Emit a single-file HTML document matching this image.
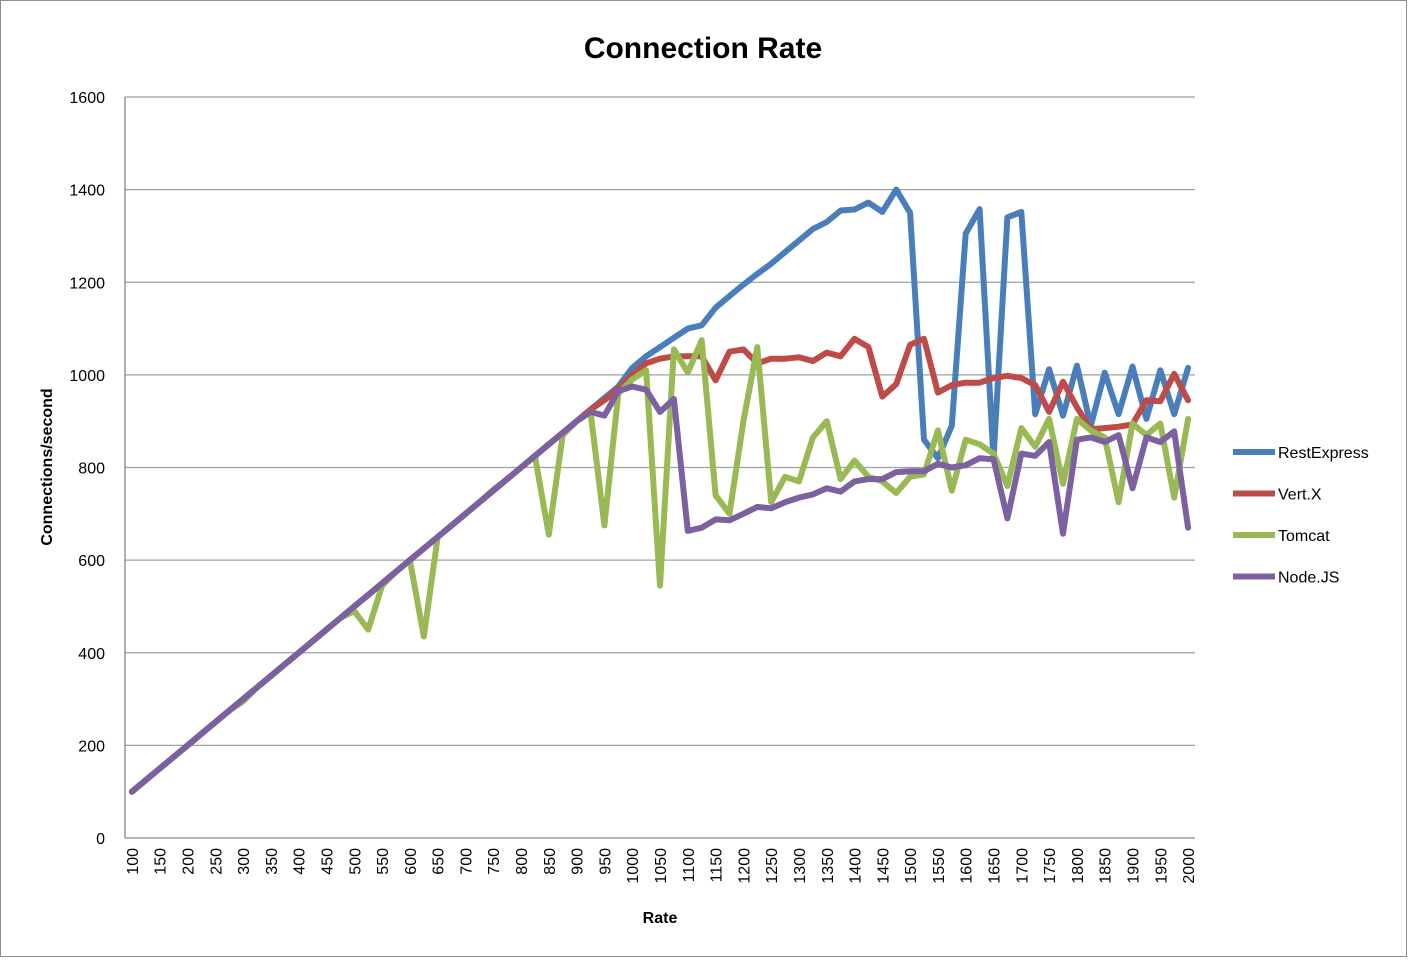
<!DOCTYPE html>
<html><head><meta charset="utf-8"><style>
body{margin:0;background:#fff;font-family:"Liberation Sans",sans-serif}
svg text{font-family:"Liberation Sans",sans-serif}
</style></head><body>
<svg id="c" width="1408" height="958">
<rect x="0.5" y="0.5" width="1406" height="956" fill="#fff" stroke="#8c8c8c"/>
<text x="703" y="58" text-anchor="middle" font-size="30" font-weight="bold">Connection Rate</text>
<text transform="translate(52,467) rotate(-90)" text-anchor="middle" font-size="16" font-weight="bold">Connections/second</text>
<text x="660" y="923" text-anchor="middle" font-size="16" font-weight="bold">Rate</text>
<g id="grid"></g><g id="ticks"></g><g id="series"></g><g id="legend"></g>
</svg>
<script>
const categories=[100,125,150,175,200,225,250,275,300,325,350,375,400,425,450,475,500,525,550,575,600,625,650,675,700,725,750,775,800,825,850,875,900,925,950,975,1000,1025,1050,1075,1100,1125,1150,1175,1200,1225,1250,1275,1300,1325,1350,1375,1400,1425,1450,1475,1500,1525,1550,1575,1600,1625,1650,1675,1700,1725,1750,1775,1800,1825,1850,1875,1900,1925,1950,1975,2000];
const yTicks=[0,200,400,600,800,1000,1200,1400,1600];
const seriesNames=["RestExpress","Vert.X","Tomcat","Node.JS"];
const seriesColors=["#4a7ebb","#be4b48","#98b954","#7d60a0"];
const restExpress=[100,125,150,175,200,225,250,275,300,325,350,375,400,425,450,475,500,525,550,575,600,625,650,675,700,725,750,775,800,825,850,875,900,925,950,975,1015,1040,1060,1080,1100,1107,1145,1170,1195,1218,1240,1265,1290,1315,1330,1355,1357,1372,1352,1400,1350,860,820,890,1305,1358,820,1340,1352,915,1012,912,1020,890,1005,915,1018,905,1010,915,1015];
const vertX=[100,125,150,175,200,225,250,275,300,325,350,375,400,425,450,475,500,525,550,575,600,625,650,675,700,725,750,775,800,825,850,875,900,925,945,970,1000,1025,1035,1040,1040,1040,988,1050,1055,1025,1035,1035,1038,1030,1048,1040,1078,1060,953,980,1065,1078,962,978,983,983,993,998,993,978,920,985,930,883,885,888,893,945,943,1002,945];
const tomcat=[100,125,150,175,200,225,250,275,295,325,350,375,400,425,450,475,490,450,545,575,600,435,650,675,700,725,752,775,800,825,655,870,900,920,675,960,990,1010,545,1055,1005,1075,740,700,900,1060,725,780,770,865,900,775,815,780,770,745,780,785,880,750,860,850,830,760,885,845,905,765,905,880,865,725,895,870,895,735,905];
const nodeJS=[100,125,150,175,200,225,250,275,300,325,350,375,400,425,450,475,500,525,550,575,600,625,650,675,700,725,750,775,800,825,850,875,900,920,912,965,975,968,920,948,663,670,688,686,700,715,712,725,735,742,755,748,770,775,775,790,792,792,808,800,805,820,818,690,830,825,855,657,860,865,855,870,755,865,855,878,670];
const allSeries=[restExpress,vertX,tomcat,nodeJS];
const NS="http://www.w3.org/2000/svg";
const L=125,R=1195,T=97,B=838,yMax=1600;
const band=(R-L)/categories.length;
function xScale(i){return L+band*(i+0.5);}
function yScale(v){return B-(v/yMax)*(B-T);}
function mk(t,a,p){const e=document.createElementNS(NS,t);for(const k in a)e.setAttribute(k,a[k]);p.appendChild(e);return e;}
const grid=document.getElementById('grid'),ticks=document.getElementById('ticks');
yTicks.forEach(v=>{
 const y=yScale(v);
 const g=mk('line',{x1:L,x2:R,y1:y,y2:y,stroke:v===0?'#868686':'#a0a0a0','stroke-width':1.3},grid);
 
 
 const t=mk('text',{x:105,y:y+6,'text-anchor':'end','font-size':16},ticks);t.textContent=v;
 
 
});
const ax=mk('line',{x1:L,x2:L,y1:T,y2:B,stroke:'#868686','stroke-width':1.3},grid);


categories.forEach((c,i)=>{
 if(c%50!==0)return;
 const x=xScale(i);
 const t=mk('text',{transform:`translate(${x+6},848) rotate(-90)`,'text-anchor':'end','font-size':16},ticks);t.textContent=c;
 
 
});
const sg=document.getElementById('series'),lg=document.getElementById('legend');
allSeries.forEach((s,k)=>{
 const d=s.map((v,i)=>(i?'L':'M')+xScale(i).toFixed(1)+','+yScale(v).toFixed(1)).join('');
 const p=mk('path',{d:d,fill:'none',stroke:seriesColors[k],'stroke-width':6,'stroke-linejoin':'round','stroke-linecap':'round'},sg);
 
 
 const y=452+k*41.5;
 const ll=mk('line',{x1:1233,x2:1275,y1:y,y2:y,stroke:seriesColors[k],'stroke-width':6},lg);
 
 
 const lt=mk('text',{x:1278,y:y+6,'font-size':16},lg);lt.textContent=seriesNames[k];
 
 
});
</script>
</body></html>
